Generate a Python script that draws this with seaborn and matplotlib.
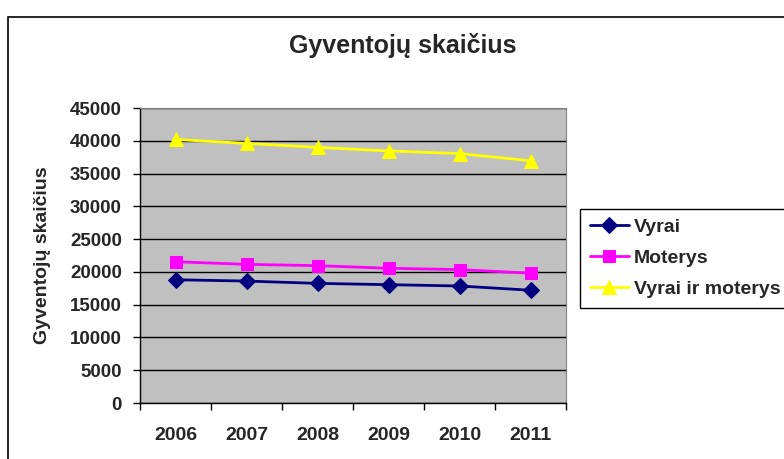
import numpy as np
import pandas as pd
import matplotlib
matplotlib.use("Agg")
import matplotlib.pyplot as plt
from matplotlib.patches import Rectangle
import seaborn as sns

# ------------------ Duomenys ------------------
YEARS = ["2006", "2007", "2008", "2009", "2010", "2011"]
VYRAI = [18800, 18600, 18250, 18050, 17850, 17200]
MOTERYS = [21550, 21150, 20950, 20550, 20350, 19800]
VISI = [40200, 39600, 39000, 38450, 38050, 36950]

SERIES = ["Vyrai", "Moterys", "Vyrai ir moterys"]
Y_TICKS = list(range(0, 45001, 5000))

# ------------------ Lentelė ------------------
rows = []
for name, vals in zip(SERIES, [VYRAI, MOTERYS, VISI]):
    for i, v in enumerate(vals):
        rows.append({"x": i, "Metai": YEARS[i], "Serija": name, "Gyventojai": v})
df = pd.DataFrame(rows)

# ------------------ Braižymas ------------------
sns.set_style("white")
plt.rcParams["font.family"] = ["Liberation Sans", "DejaVu Sans"]
plt.rcParams["font.weight"] = "bold"

fig = plt.figure(figsize=(7.84, 4.59), dpi=100)
ax = fig.add_axes([0.1786, 0.122, 0.5434, 0.6427])
ax.set_facecolor("#C0C0C0")

colors = {"Vyrai": "#000080", "Moterys": "#FF00FF", "Vyrai ir moterys": "#FFFF00"}
markers = {"Vyrai": "D", "Moterys": "s", "Vyrai ir moterys": "^"}
sizes = {"Vyrai": 8, "Moterys": 9, "Vyrai ir moterys": 10}

for name in SERIES:
    sub = df[df["Serija"] == name]
    sns.lineplot(data=sub, x="x", y="Gyventojai", ax=ax, color=colors[name],
                 marker=markers[name], markersize=sizes[name],
                 markeredgecolor=colors[name], linewidth=2, label=name)

ax.set_ylim(0, 45000)
ax.set_xlim(-0.5, 5.5)
ax.set_yticks(Y_TICKS)
ax.set_yticklabels([str(t) for t in Y_TICKS], fontsize=13.5, fontweight="bold")
ax.yaxis.grid(True, color="black", linewidth=1)
ax.set_axisbelow(True)

ax.set_xticks(np.arange(-0.5, 6, 1))
ax.set_xticklabels([])
ax.set_xticks(range(len(YEARS)), minor=True)
ax.set_xticklabels(YEARS, minor=True, fontsize=14, fontweight="bold")
ax.tick_params(axis="x", which="major", direction="out", length=5, width=1, color="black", bottom=True)
ax.tick_params(axis="x", which="minor", length=0, pad=17)
ax.tick_params(axis="y", direction="out", length=5, width=1, color="black", left=True, pad=8)

for side in ["top", "right"]:
    ax.spines[side].set_color("#808080")
for side in ["left", "bottom"]:
    ax.spines[side].set_color("black")
    ax.spines[side].set_linewidth(1)

ax.set_xlabel("")
ax.set_ylabel("Gyventojų skaičius", fontsize=14, fontweight="bold", labelpad=14)
fig.text(0.514, 0.9, "Gyventojų skaičius", ha="center", va="center",
         fontsize=18, fontweight="bold")

leg = ax.legend(loc="upper left", bbox_to_anchor=(0.74, 0.545), bbox_transform=fig.transFigure,
                frameon=True, fancybox=False, edgecolor="black", framealpha=1,
                prop={"size": 14, "weight": "bold"}, handlelength=2.0, labelspacing=0.68,
                borderpad=0.5, handletextpad=0.25, borderaxespad=0)
leg.get_frame().set_linewidth(1)

# rėmelis aplink diagramą
fig.patches.append(Rectangle((0.0102, -0.02), 1.1, 0.983, transform=fig.transFigure,
                             fill=False, edgecolor="black", linewidth=1.2))

fig.savefig("out.png", dpi=100)
